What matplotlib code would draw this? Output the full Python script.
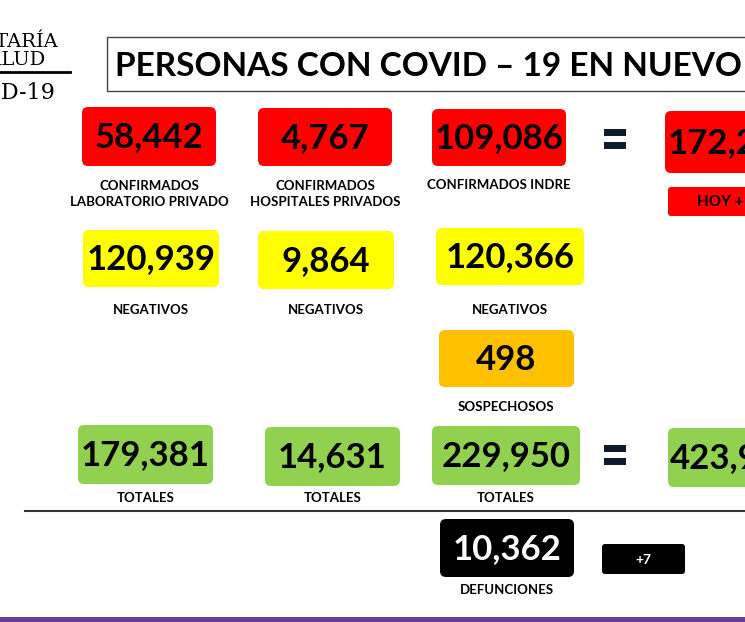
import matplotlib
matplotlib.use("Agg")
import matplotlib.pyplot as plt
from matplotlib.patches import FancyBboxPatch, Rectangle

title = "PERSONAS CON COVID – 19 EN NUEVO LEÓN"
red_values = ["58,442", "4,767", "109,086", "172,295"]
red_labels = ["CONFIRMADOS\nLABORATORIO PRIVADO", "CONFIRMADOS\nHOSPITALES PRIVADOS", "CONFIRMADOS INDRE"]
hoy_label = "HOY +123"
yellow_values = ["120,939", "9,864", "120,366"]
yellow_labels = ["NEGATIVOS", "NEGATIVOS", "NEGATIVOS"]
orange_value = "498"
orange_label = "SOSPECHOSOS"
green_values = ["179,381", "14,631", "229,950", "423,962"]
green_labels = ["TOTALES", "TOTALES", "TOTALES"]
death_value = "10,362"
death_label = "DEFUNCIONES"
death_delta = "+7"

RED, YEL, ORA, GRN = "#fe0000", "#ffff00", "#ffc000", "#92d050"
FONT = ["Lato", "DejaVu Sans"]

fig = plt.figure(figsize=(7.45, 6.22), dpi=100)
ax = fig.add_axes([0, 0, 1, 1])
ax.set_xlim(0, 745); ax.set_ylim(622, 0); ax.axis("off")

def box(x0, x1, y0, y1, color, text, tc="black", fs=25, r=6):
    p = FancyBboxPatch((x0 + r, y0 + r), x1 - x0 - 2 * r, y1 - y0 - 2 * r,
                       boxstyle=f"round,pad={r}", fc=color, ec="none")
    ax.add_patch(p)
    ax.text((x0 + x1) / 2, (y0 + y1) / 2 + 1, text, ha="center", va="center",
            fontsize=fs, fontweight="bold", color=tc, family=FONT, clip_on=True)

def lab(x, y, t, fs=9.5):
    ax.text(x, y, t, ha="center", va="center", fontsize=fs, fontweight="bold",
            family=FONT, linespacing=1.3)

# logo fragment
ax.text(58, 42, "SECRETARÍA", ha="right", va="center", fontsize=14, family="DejaVu Serif")
ax.text(45, 60, "DE SALUD", ha="right", va="center", fontsize=14, family="DejaVu Serif")
ax.plot([0, 70], [72, 72], color="black", lw=2)
ax.text(56, 93, "COVID-19", ha="right", va="center", fontsize=16, family="DejaVu Serif")

# title
ax.add_patch(Rectangle((107, 37), 700, 54, fc="white", ec="#444444", lw=1))
ax.text(115, 66, title, ha="left", va="center", fontsize=24, fontweight="bold", family=FONT)

# red row
rx = [(82, 216, 107, 166), (258, 392, 108, 166), (432, 566, 109, 166), (665, 800, 111, 173)]
for (x0, x1, y0, y1), v in zip(rx, red_values):
    box(x0, x1, y0, y1, RED, v)
for (x0, x1, _, _), t in zip(rx[:3], red_labels):
    lab((x0 + x1) / 2, 194 if "\n" in t else 185, t)
box(668, 800, 187, 216, RED, hoy_label, fs=11, r=3)

# yellow row
yx = [(83, 219, 230, 287), (258, 394, 231, 289), (436, 584, 228, 285)]
for (x0, x1, y0, y1), v, t in zip(yx, yellow_values, yellow_labels):
    box(x0, x1, y0, y1, YEL, v)
    lab((x0 + x1) / 2, 310, t)

box(439, 574, 330, 387, ORA, orange_value)
lab(506, 407, orange_label)

# green row
gx = [(78, 213, 425, 484), (265, 400, 427, 486), (432, 580, 426, 485), (668, 800, 428, 487)]
for (x0, x1, y0, y1), v in zip(gx, green_values):
    box(x0, x1, y0, y1, GRN, v)
for (x0, x1, _, _), t in zip(gx[:3], green_labels):
    lab((x0 + x1) / 2, 498, t)

# equals signs
for yc in (140, 456):
    ax.add_patch(Rectangle((604, yc - 11), 22, 7, fc="#0d1b2a", ec="none"))
    ax.add_patch(Rectangle((604, yc + 2), 22, 7, fc="#0d1b2a", ec="none"))

ax.plot([25, 745], [511, 511], color="#333333", lw=1.5)

box(440, 574, 519, 577, "black", death_value, tc="white")
lab(507, 590, death_label)
box(602, 685, 544, 574, "black", death_delta, tc="white", fs=10, r=3)

ax.add_patch(Rectangle((0, 617), 745, 5, fc="#6a3d9a", ec="none"))

fig.savefig("out.png", dpi=100)
